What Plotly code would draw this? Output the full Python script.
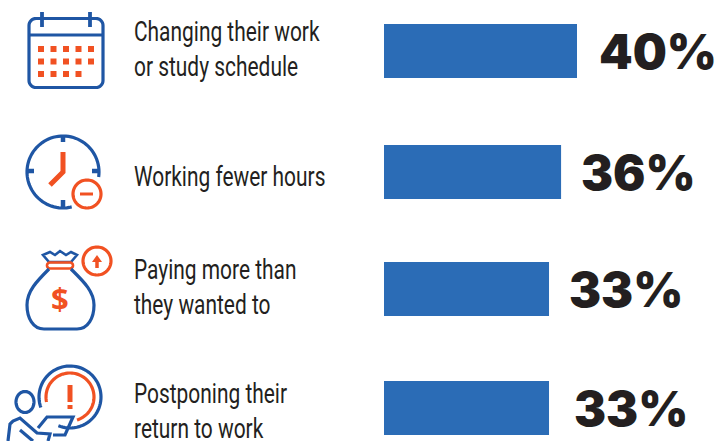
import math
import plotly.graph_objects as go

categories = ["Changing their work<br>or study schedule", "Working fewer hours",
              "Paying more than<br>they wanted to", "Postponing their<br>return to work"]
bar_values = [40, 36.7, 34.2, 34.2]
value_labels = ["40%", "36%", "33%", "33%"]
row_centres = [51, 172, 289, 408]
label_gaps = [23, 21, 21, 26]
text_centres = [49, 177, 287, 411]

W, H = 720, 441
BLUE, ORANGE, BAR = "#1f56a4", "#f15122", "#2b6cb6"
PX_PER_UNIT = 193 / 40
X0 = 384

def px(x): return x / W
def py(y): return 1 - y / H

def path(d, color, width=3.2, fill=None):
    return dict(type="path", xref="paper", yref="paper", path=d,
                line=dict(color=color, width=width), fillcolor=fill or "rgba(0,0,0,0)", layer="above")

def pt(p): return f"{px(p[0]):.5f},{py(p[1]):.5f}"

def P(points, close=False):
    return "M" + " L".join(pt(p) for p in points) + (" Z" if close else "")

def arc_pts(cx, cy, rx, ry, a0, a1, n=48):
    return [(cx + rx * math.cos(math.radians(a0 + (a1 - a0) * i / n)),
             cy + ry * math.sin(math.radians(a0 + (a1 - a0) * i / n))) for i in range(n + 1)]

def arc(cx, cy, r, a0=0, a1=360, n=72, ry=None):
    return P(arc_pts(cx, cy, r, ry or r, a0, a1, n))

def rrect(x0, y0, x1, y1, r):
    pts = (arc_pts(x1 - r, y0 + r, r, r, -90, 0, 8) + arc_pts(x1 - r, y1 - r, r, r, 0, 90, 8)
           + arc_pts(x0 + r, y1 - r, r, r, 90, 180, 8) + arc_pts(x0 + r, y0 + r, r, r, 180, 270, 8))
    return P(pts, True)

def bez(p0, p1, p2, p3):
    return f"M{pt(p0)} C{pt(p1)} {pt(p2)} {pt(p3)}"

shapes = []
# calendar
shapes.append(path(rrect(29, 18.5, 103, 87.5, 7), BLUE))
shapes.append(path(P([(29, 35), (103, 35)]), BLUE))
shapes.append(path(P([(42, 12), (42, 27)]), BLUE, 3.8))
shapes.append(path(P([(90, 12), (90, 27)]), BLUE, 3.8))
for r, n in enumerate([5, 5, 4]):
    for c in range(n):
        x, y = 41 + c * 12.5, 49 + r * 12.5
        shapes.append(path(P([(x-3, y-3), (x+3, y-3), (x+3, y+3), (x-3, y+3)], True), ORANGE, 0, ORANGE))
# clock
shapes.append(path(arc(63, 172, 36, 76, 368), BLUE))
for a, b in [((63, 135), (63, 142)), ((63, 200), (63, 207)), ((27, 171), (34, 171)), ((92, 171), (99, 171))]:
    shapes.append(path(P([a, b]), BLUE, 4.5))
shapes.append(path(P([(63, 152), (63, 172), (50, 185)]), ORANGE, 5))
shapes.append(path(arc(87, 194, 14), ORANGE))
shapes.append(path(P([(80, 194), (93, 194)]), ORANGE, 3))
# money bag
shapes.append(path(P([(43, 255), (50, 252), (55, 255), (60, 251), (66, 255), (71, 252), (77, 255), (71, 262), (49, 262)], True), BLUE, 2.6))
shapes.append(path(rrect(47, 262.5, 73, 268.5, 3), ORANGE, 2.6))
shapes.append(path(bez((49, 269), (37, 281), (27, 291), (27, 305)), BLUE))
shapes.append(path(bez((27, 305), (27, 318), (33, 329), (44, 329)), BLUE))
shapes.append(path(P([(44, 329), (77, 329)]), BLUE))
shapes.append(path(bez((77, 329), (88, 329), (94, 318), (94, 305)), BLUE))
shapes.append(path(bez((94, 305), (94, 291), (83, 281), (71, 269)), BLUE))
shapes.append(path(arc(97, 261, 14), ORANGE))
shapes.append(path(P([(97, 268), (97, 260)]), ORANGE, 3.5))
shapes.append(path(P([(92, 262), (97, 255), (102, 262)], True), ORANGE, 0, ORANGE))
# alert
shapes.append(path(arc(70, 397, 31, 160, 472), BLUE))
shapes.append(path(arc(70, 397, 24, 168, 433), ORANGE))
shapes.append(path(P([(70, 385), (70, 402)]), ORANGE, 5))
shapes.append(path(P([(70, 405), (70, 409)]), ORANGE, 5))
shapes.append(path(arc(25, 402, 9, ry=10.5), BLUE))
shapes.append(path(P([(8, 441), (10, 424), (13, 421), (20, 418), (37, 433), (50, 434), (48, 441)]), BLUE))
shapes.append(path(P([(20, 430), (33, 441)]), BLUE))
shapes.append(path(P([(38, 428), (47, 417), (73, 417), (65, 435), (53, 435)]), BLUE))

annotations = []
for cat, tc in zip(categories, text_centres):
    annotations.append(dict(x=px(132), y=py(tc), xref="paper", yref="paper", text=cat, showarrow=False,
                            xanchor="left", yanchor="middle", align="left",
                            font=dict(family="Roboto", size=27, color="#231f20")))
for v, lab, rc, gap in zip(bar_values, value_labels, row_centres, label_gaps):
    annotations.append(dict(x=v, y=rc, xref="x", yref="y", text=lab, showarrow=False,
                            xanchor="left", yanchor="middle", xshift=gap - 3,
                            font=dict(family="Inter", size=48, color="#231f20", weight=900)))
annotations.append(dict(x=px(60), y=py(298), xref="paper", yref="paper", text="<b>$</b>", showarrow=False,
                        xanchor="center", yanchor="middle",
                        font=dict(family="Open Sans", size=31, color=ORANGE)))

fig = go.Figure(go.Bar(x=bar_values, y=row_centres, orientation="h", width=54,
                       marker=dict(color=BAR, line=dict(width=0)), hoverinfo="skip"))
fig.update_layout(width=W, height=H, margin=dict(l=0, r=0, t=0, b=0), showlegend=False,
                  paper_bgcolor="white", plot_bgcolor="white", shapes=shapes, annotations=annotations,
                  xaxis=dict(visible=False, domain=[X0 / W, 1], range=[0, (W - X0) / PX_PER_UNIT]),
                  yaxis=dict(visible=False, range=[H, 0]))
post = """
document.body.style.margin='0';document.documentElement.style.overflow='hidden';
document.querySelectorAll('.annotation-text').forEach(function(t){
  if(/[a-z]/.test(t.textContent)){
    t.style.transformBox='fill-box';t.style.transformOrigin='left center';t.style.transform='scaleX(0.775)';
  }
});
"""
fig.write_html("out.html", config=dict(displayModeBar=False), post_script=post)
